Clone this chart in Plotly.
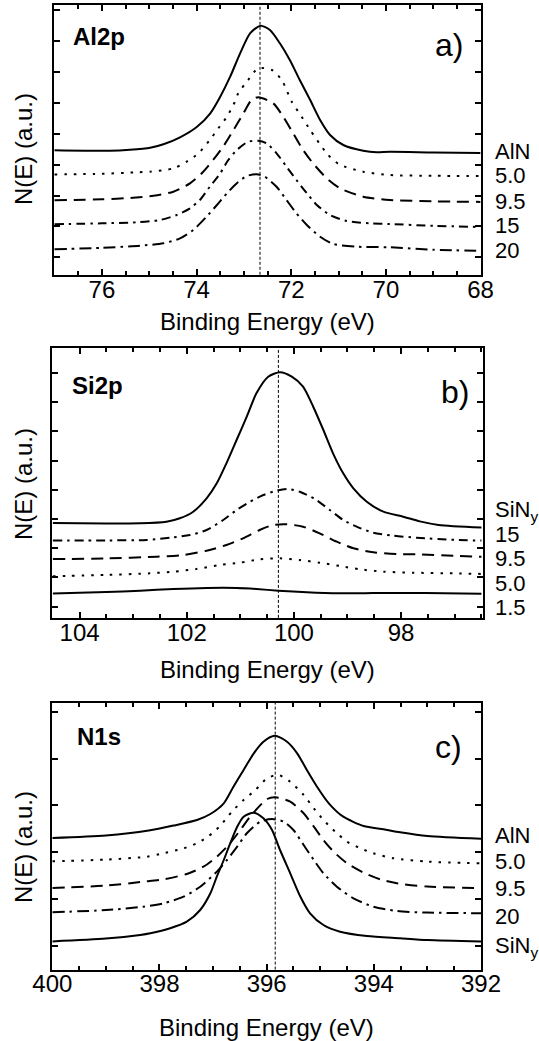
import plotly.graph_objects as go

W, H = 539, 1041

# ---------------- Panel a) Al2p ----------------
a_E_AlN = [77.0, 75.83, 75.41, 74.98, 74.7, 74.35, 73.99, 73.71, 73.5, 73.29, 73.08, 72.87, 72.65, 72.45,
           72.24, 72.03, 71.82, 71.6, 71.39, 71.18, 70.9, 70.48, 70.2, 69.92, 69.0, 68.0]
a_I_AlN = [124.5, 124.0, 125.0, 127.0, 130.5, 137.5, 148.1, 161.5, 178.1, 198.1, 221.5, 241.5, 249.1, 244.8,
           231.5, 214.8, 194.8, 174.8, 154.8, 139.8, 129.8, 124.1, 122.5, 123.1, 122.3, 121.7]

a_E_50 = [77.0, 76.0, 75.26, 74.98, 74.49, 74.21, 73.96, 73.72, 73.54, 73.36, 73.22, 73.12, 72.91, 72.7,
          72.41, 72.2, 71.99, 71.78, 71.6, 71.25, 71.0, 70.48, 69.92, 69.0, 68.0]
a_I_50 = [100.4, 101.0, 102.5, 103.1, 106.5, 113.1, 121.5, 134.8, 146.5, 158.1, 170.0, 181.5, 194.8, 206.5,
          204.8, 194.8, 173.1, 158.1, 144.8, 121.5, 110.8, 103.1, 99.8, 99.0, 98.7]

a_E_95 = [77.0, 76.0, 75.34, 74.91, 74.49, 74.14, 73.89, 73.65, 73.44, 73.22, 73.01, 72.84, 72.7, 72.38,
          72.17, 71.96, 71.75, 71.54, 71.25, 70.97, 70.48, 69.92, 69.0, 68.0]
a_I_95 = [74.6, 75.5, 77.1, 79.1, 83.1, 91.5, 101.5, 114.8, 128.1, 144.8, 161.5, 174.8, 177.5, 171.5,
          158.1, 141.5, 124.8, 111.5, 96.5, 86.5, 78.1, 74.8, 73.5, 72.9]

a_E_15 = [77.0, 76.0, 75.26, 74.77, 74.42, 74.14, 73.93, 73.72, 73.5, 73.33, 73.15, 72.91, 72.7, 72.52,
          72.31, 72.1, 71.89, 71.67, 71.46, 71.18, 70.83, 70.34, 69.92, 69.0, 68.0]
a_I_15 = [50.6, 51.5, 52.5, 54.8, 59.8, 66.5, 74.8, 88.1, 101.5, 114.8, 124.8, 133.1, 134.1, 131.5,
          121.5, 108.1, 94.8, 81.5, 69.8, 59.8, 53.8, 51.5, 50.8, 49.0, 47.8]

a_E_20 = [77.0, 76.0, 75.2, 74.7, 74.35, 74.07, 73.79, 73.57, 73.36, 73.15, 72.94, 72.73, 72.56, 72.31,
          72.1, 71.89, 71.67, 71.39, 71.11, 70.62, 69.92, 69.0, 68.0]
a_I_20 = [25.5, 27.0, 29.1, 31.5, 36.5, 44.8, 58.1, 69.8, 81.5, 91.5, 98.8, 100.5, 98.1, 88.1,
          74.8, 61.5, 49.8, 38.1, 30.8, 28.1, 27.5, 25.0, 24.1]

a_ref = 72.66
a_labels = ["AlN", "5.0", "9.5", "15", "20"]

# ---------------- Panel b) Si2p ----------------
b_E_SiN = [104.5, 103.5, 102.87, 102.38, 102.13, 101.88, 101.63, 101.44, 101.26, 101.07, 100.88, 100.7, 100.48,
           100.26, 100.04, 99.83, 99.64, 99.45, 99.27, 99.08, 98.89, 98.64, 98.33, 97.96, 97.65, 97.3, 96.5]
b_I_SiN = [94.9, 94.5, 94.6, 96.2, 99.6, 106.2, 119.6, 134.6, 154.6, 177.9, 201.2, 224.6, 241.2,
           245.6, 241.2, 231.2, 211.2, 187.9, 164.6, 144.6, 129.6, 116.2, 106.2, 101.2, 96.5, 93.0, 90.4]

b_E_15 = [104.5, 103.5, 102.75, 102.25, 101.94, 101.63, 101.32, 101.07, 100.82, 100.57, 100.32, 100.11, 99.89,
          99.58, 99.33, 99.08, 98.83, 98.52, 98.15, 97.71, 97.0, 96.5]
b_I_15 = [77.3, 77.5, 77.9, 80.6, 82.9, 87.9, 97.9, 107.9, 116.2, 122.9, 127.2, 128.9, 126.2,
          117.9, 107.9, 97.9, 91.2, 85.2, 82.2, 80.2, 78.0, 77.3]

b_E_95 = [104.5, 103.5, 102.56, 102.07, 101.63, 101.26, 100.95, 100.64, 100.39, 100.14, 99.83, 99.52, 99.2,
          98.89, 98.52, 98.08, 97.71, 97.0, 96.5]
b_I_95 = [58.8, 59.5, 61.2, 62.9, 67.2, 72.9, 79.6, 87.9, 92.9, 93.6, 91.2, 84.6, 76.2,
          69.6, 65.6, 63.9, 63.6, 62.0, 61.2]

b_E_50 = [104.5, 103.5, 102.69, 102.25, 101.82, 101.38, 101.01, 100.64, 100.26, 99.89, 99.52, 99.14, 98.77,
          98.33, 97.77, 97.0, 96.5]
b_I_50 = [41.6, 43.0, 44.6, 46.2, 48.9, 52.9, 55.2, 58.6, 59.6, 57.9, 55.2, 51.9, 48.6,
          46.2, 45.2, 44.5, 44.0]

b_E_15s = [104.5, 103.5, 102.87, 102.25, 101.63, 101.07, 100.7, 100.29, 99.76, 99.14, 98.52, 97.9, 97.2, 96.5]
b_I_15s = [24.4, 25.8, 27.2, 28.9, 29.9, 29.9, 28.9, 27.2, 25.6, 24.6, 24.8, 25.0, 24.6, 24.1]

b_ref = 100.29
b_labels = ["SiN<sub>y</sub>", "15", "9.5", "5.0", "1.5"]

# ---------------- Panel c) N1s ----------------
c_E_AlN = [400.0, 399.0, 398.2, 397.74, 397.3, 397.05, 396.8, 396.62, 396.43, 396.24, 396.06, 395.85,
           395.62, 395.43, 395.25, 395.06, 394.84, 394.57, 394.19, 393.82, 393.51, 393.0, 392.0]
c_I_AlN = [131.5, 134.0, 139.0, 144.0, 149.6, 155.6, 166.3, 182.9, 199.6, 216.3, 227.9, 233.9,
           227.9, 216.3, 199.6, 182.9, 166.3, 152.9, 143.6, 140.3, 137.3, 133.5, 130.8]

c_E_50 = [400.0, 399.0, 398.23, 397.99, 397.55, 397.3, 397.08, 396.87, 396.65, 396.43, 396.21, 395.99, 395.78,
          395.56, 395.31, 395.12, 394.94, 394.72, 394.5, 394.25, 394.01, 393.63, 393.0, 392.0]
c_I_50 = [108.3, 110.0, 112.9, 115.6, 121.3, 126.3, 133.6, 143.6, 157.9, 169.6, 179.6, 191.3, 194.6,
          187.9, 174.6, 161.3, 149.6, 137.9, 127.9, 121.3, 116.3, 111.3, 108.0, 106.2]

c_E_95 = [400.0, 399.0, 398.3, 397.92, 397.49, 397.18, 396.93, 396.71, 396.49, 396.31, 395.99, 395.84, 395.56,
          395.31, 395.12, 394.94, 394.75, 394.5, 394.19, 393.88, 393.57, 393.0, 392.0]
c_I_95 = [81.5, 84.0, 87.9, 90.3, 95.6, 102.9, 112.9, 124.6, 139.6, 152.9, 170.6, 172.3, 167.9,
          156.3, 142.9, 129.6, 117.9, 106.3, 96.9, 90.3, 86.3, 83.0, 81.5]

c_E_20 = [400.0, 399.0, 398.3, 397.92, 397.55, 397.24, 396.96, 396.74, 396.55, 396.37, 396.12, 395.9, 395.68,
          395.5, 395.31, 395.12, 394.94, 394.69, 394.38, 394.01, 393.57, 393.0, 392.0]
c_I_20 = [57.4, 59.5, 62.9, 66.3, 72.9, 82.9, 96.3, 109.6, 122.9, 136.3, 147.9, 150.6, 147.9,
          139.6, 124.6, 109.6, 96.3, 82.9, 71.3, 62.9, 58.6, 57.0, 56.4]

c_E_SiN = [400.0, 399.0, 398.36, 398.17, 397.8, 397.49, 397.24, 397.05, 396.93, 396.8, 396.68, 396.55, 396.43,
           396.24, 396.06, 395.9, 395.75, 395.56, 395.37, 395.19, 394.94, 394.63, 394.13, 393.51, 393.0, 392.0]
c_I_SiN = [28.2, 31.0, 34.6, 36.3, 41.3, 47.9, 59.6, 76.3, 92.9, 109.6, 126.3, 142.9, 152.9,
           156.9, 151.3, 139.6, 119.6, 96.3, 72.9, 56.3, 44.6, 37.9, 33.6, 31.3, 29.5, 28.2]

c_ref = 395.84
c_labels = ["AlN", "5.0", "9.5", "20", "SiN<sub>y</sub>"]

panel_letters = ["a)", "b)", "c)"]
panel_elements = ["Al2p", "Si2p", "N1s"]
x_title = "Binding Energy (eV)"
y_title = "N(E) (a.u.)"

# ---------------- styles ----------------
FONT = "Liberation Sans, Arial, Helvetica, sans-serif"
SOLID = "solid"
DOT = "2.5px,7px"
DASH = "12px,7px"
DASHDOT = "9px,5px,2.5px,5px"
DASHDOT2 = "12px,5px,2.5px,5px"

fig = go.Figure()


def add_curve(E, I, dash, ax):
    fig.add_trace(go.Scatter(
        x=E, y=I, mode="lines", xaxis="x" + ax, yaxis="y" + ax,
        line=dict(color="black", width=2, dash=dash, shape="spline", smoothing=0.7),
        showlegend=False, hoverinfo="skip"))


add_curve(a_E_AlN, a_I_AlN, SOLID, "")
add_curve(a_E_50, a_I_50, DOT, "")
add_curve(a_E_95, a_I_95, DASH, "")
add_curve(a_E_15, a_I_15, DASHDOT, "")
add_curve(a_E_20, a_I_20, DASHDOT2, "")

add_curve(b_E_SiN, b_I_SiN, SOLID, "2")
add_curve(b_E_15, b_I_15, DASHDOT, "2")
add_curve(b_E_95, b_I_95, DASH, "2")
add_curve(b_E_50, b_I_50, DOT, "2")
add_curve(b_E_15s, b_I_15s, SOLID, "2")

add_curve(c_E_AlN, c_I_AlN, SOLID, "3")
add_curve(c_E_50, c_I_50, DOT, "3")
add_curve(c_E_95, c_I_95, DASH, "3")
add_curve(c_E_20, c_I_20, DASHDOT2, "3")
add_curve(c_E_SiN, c_I_SiN, SOLID, "3")

# ---------------- layout (pixel geometry) ----------------
panels = [
    dict(l=53.6, r=480.6, t=5.2, b=274.8, xr=[77.02, 68.0], yh=269.6, t0=17.5, dt=30.9),
    dict(l=52.3, r=482.5, t=347.9, b=617.9, xr=[104.51, 96.48], yh=270.0, t0=11.3, dt=29.2),
    dict(l=52.3, r=481.0, t=703.0, b=969.6, xr=[400.0, 392.0], yh=266.6, t0=24.1, dt=46.7),
]

layout = dict(width=W, height=H, margin=dict(l=0, r=0, t=0, b=0, pad=0, autoexpand=False),
              paper_bgcolor="white", plot_bgcolor="white",
              font=dict(family=FONT, color="black"))

for i, p in enumerate(panels):
    sfx = "" if i == 0 else str(i + 1)
    layout["xaxis" + sfx] = dict(
        domain=[p["l"] / W, p["r"] / W], range=p["xr"], anchor="y" + sfx,
        tick0=0, dtick=2, ticks="inside", ticklen=6, tickwidth=1.5, tickcolor="black",
        minor=dict(ticks="inside", dtick=0.5, ticklen=4, tickwidth=1.5, tickcolor="black"),
        showline=True, linewidth=2, linecolor="black", mirror="allticks",
        showgrid=False, zeroline=False, tickfont=dict(size=24, family=FONT, color="black"),
        ticklabelstandoff=-8, automargin=False)
    layout["yaxis" + sfx] = dict(
        domain=[1 - p["b"] / H, 1 - p["t"] / H], range=[0, p["yh"]], anchor="x" + sfx,
        tick0=p["t0"], dtick=p["dt"], ticks="inside", ticklen=6, tickwidth=1.5, tickcolor="black",
        showticklabels=False, showline=True, linewidth=2, linecolor="black", mirror="allticks",
        showgrid=False, zeroline=False, automargin=False)

fig.update_layout(**layout)

for ref, sfx in [(a_ref, ""), (b_ref, "2"), (c_ref, "3")]:
    fig.add_shape(type="line", xref="x" + sfx, yref="y" + sfx + " domain",
                  x0=ref, x1=ref, y0=0, y1=1,
                  line=dict(color="black", width=1, dash="3px,2px"))

ann = []


def txt(text, xpx, ypx, size, xanchor="left", bold=False, angle=0):
    ann.append(dict(text=("<b>%s</b>" % text) if bold else text, xref="paper", yref="paper",
                    x=xpx / W, y=1 - ypx / H, xanchor=xanchor, yanchor="middle",
                    showarrow=False, textangle=angle,
                    font=dict(size=size, family=FONT, color="black")))


txt(panel_letters[0], 449, 45, 32, "center")
txt(panel_letters[1], 455, 392, 32, "center")
txt(panel_letters[2], 448, 747, 32, "center")
txt(panel_elements[0], 71, 37, 24, "left", bold=True)
txt(panel_elements[1], 70, 385, 24, "left", bold=True)
txt(panel_elements[2], 75, 736, 24, "left", bold=True)

for lab, y in zip(a_labels, [151, 176, 201, 226, 251]):
    txt(lab, 493, y, 22)
for lab, y in zip(b_labels, [511, 534, 558, 583, 607]):
    txt(lab, 493, y, 22)
for lab, y in zip(c_labels, [835, 861, 888, 916, 947]):
    txt(lab, 493, y, 22)

for yc in [149, 484, 847]:
    txt(y_title, 23, yc, 24, "center", angle=-90)
for yc, p in zip([321.6, 669, 1027], panels):
    txt(x_title, (p["l"] + p["r"]) / 2, yc, 24, "center")

fig.update_layout(annotations=ann)
fig.write_html("out.html", config={"displayModeBar": False},
               post_script="document.body.style.margin='0';document.body.style.overflow='hidden';")
